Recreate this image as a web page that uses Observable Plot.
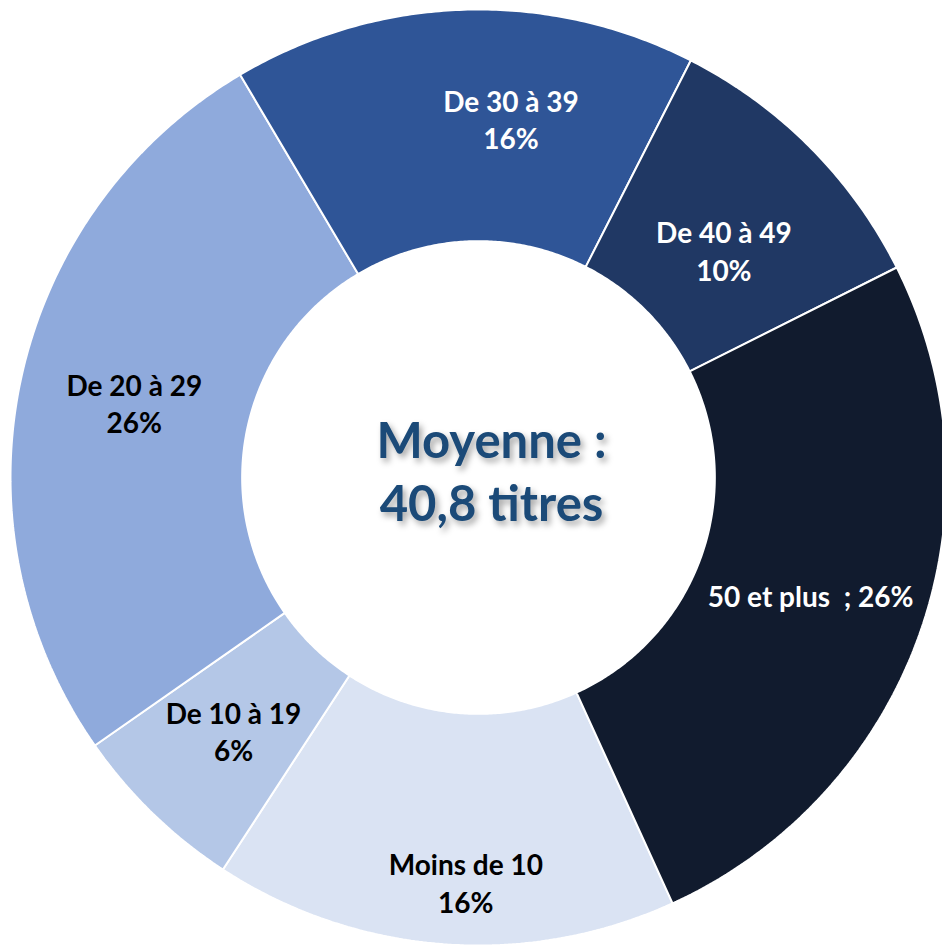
<!DOCTYPE html>
<html>
<head>
<meta charset="utf-8">
<script src="https://cdn.jsdelivr.net/npm/d3@7"></script>
<script src="https://cdn.jsdelivr.net/npm/@observablehq/plot@0.6"></script>
<style>
  html, body { margin: 0; padding: 0; background: #ffffff; }
  #chart { width: 942px; height: 946px; overflow: hidden; }
  #chart svg { display: block; }
  .center-text { filter: drop-shadow(3px 4px 3px rgba(0,0,0,0.35)); }
</style>
</head>
<body>
<div id="chart"></div>
<script>
// ---- Data ----
const categories = ["Moins de 10", "De 10 à 19", "De 20 à 29", "De 30 à 39", "De 40 à 49", "50 et plus"];
const values = [16.0, 6.1, 26.2, 16.0, 10.1, 25.6];
const colors = ["#dae3f3", "#b4c7e7", "#8faadc", "#2f5597", "#203864", "#111b2e"];
const labelColors = ["#000000", "#000000", "#000000", "#ffffff", "#ffffff", "#ffffff"];
const labelInline = [false, false, false, false, false, true];
const centerLines = ["Moyenne :", "40,8 titres"];

// ---- Chart settings ----
const W = 942, H = 946;
const cx = 478, cy = 477, R = 468;   // donut centre / radius in pixels
const inner = 0.505;                 // inner radius ratio
const startAngle = 155.5;            // degrees, clockwise from 12 o'clock
// manual label nudges (angle offset in degrees, radius ratio), as in the source chart
const labelNudge = {
  "Moins de 10": {da: -2.5, r: 0.865},
  "De 30 à 39": {da: 7, r: 0.77},
  "De 40 à 49": {da: 2, r: 0.715}
};

// ---- Geometry from data ----
const total = d3.sum(values);
const slices = [];
let acc = startAngle;
categories.forEach((c, i) => {
  const span = values[i] / total * 360;
  slices.push({cat: c, a0: acc, a1: acc + span, color: colors[i], labelColor: labelColors[i],
               pct: Math.round(values[i]), inline: labelInline[i]});
  acc += span;
});
const rad = a => a * Math.PI / 180;
const pt = (a, r) => ({x: Math.sin(rad(a)) * r, y: -Math.cos(rad(a)) * r});

const polys = [];
for (const s of slices) {
  const n = Math.max(2, Math.ceil((s.a1 - s.a0) / 0.5));
  for (let k = 0; k <= n; k++) {
    const a = s.a0 + (s.a1 - s.a0) * k / n;
    polys.push({...pt(a, 1), cat: s.cat, color: s.color});
  }
  for (let k = n; k >= 0; k--) {
    const a = s.a0 + (s.a1 - s.a0) * k / n;
    polys.push({...pt(a, inner), cat: s.cat, color: s.color});
  }
}

const labels = slices.map(s => {
  const nudge = labelNudge[s.cat] ?? {};
  const mid = (s.a0 + s.a1) / 2 + (nudge.da ?? 0);
  const r = nudge.r ?? (1 + inner) / 2;
  return {...pt(mid, r), text: s.inline ? `${s.cat}  ; ${s.pct}%` : `${s.cat}\n${s.pct}%`, color: s.labelColor};
});

const center = [{x: 0, y: 0, text: centerLines.join("\n")}];

const chart = Plot.plot({
  width: W,
  height: H,
  margin: 0,
  style: {background: "#ffffff", overflow: "hidden"},
  x: {domain: [-cx / R, (W - cx) / R], range: [0, W], axis: null},
  y: {domain: [-cy / R, (H - cy) / R], range: [0, H], axis: null},
  color: {type: "identity"},
  marks: [
    Plot.line(polys, {x: "x", y: "y", z: "cat", fill: "color", stroke: "#ffffff", strokeWidth: 2,
                      curve: "linear-closed", strokeLinejoin: "miter"}),
    Plot.text(labels, {x: "x", y: "y", text: "text", fill: "color", fontSize: 28, fontWeight: "bold",
                       fontFamily: "Lato", lineHeight: 1.33}),
    Plot.text(center, {x: "x", y: "y", text: "text", fill: "#1b4a78", fontSize: 49, fontWeight: "bold",
                       fontFamily: "Lato", lineHeight: 1.27, dx: 13, dy: -8})
  ]
});
const textGroups = chart.querySelectorAll('g[aria-label="text"]');
if (textGroups.length) textGroups[textGroups.length - 1].classList.add("center-text");
chart.querySelectorAll('text').forEach(t => t.setAttribute("xml:space", "preserve"));
chart.querySelectorAll('text, tspan').forEach(t => t.style.whiteSpace = "pre");
document.getElementById("chart").appendChild(chart);
</script>
</body>
</html>
